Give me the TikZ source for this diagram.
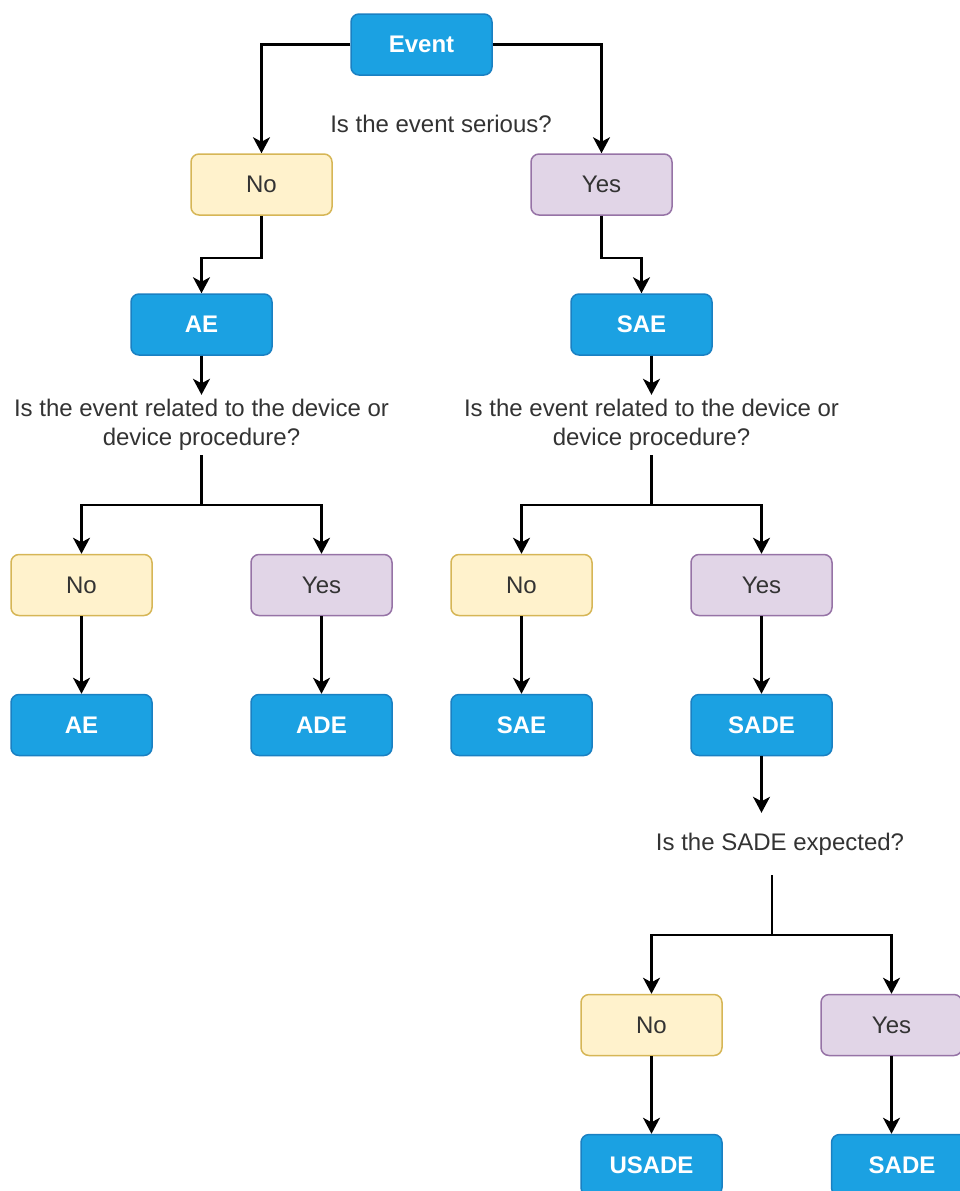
\documentclass[tikz,border=0pt]{standalone}
\usepackage{fontspec}
\setmainfont{Liberation Sans}
\usetikzlibrary{arrows.meta,calc}

\definecolor{termfill}{HTML}{1BA1E2}
\definecolor{termline}{HTML}{1A80C2}
\definecolor{nofill}{HTML}{FFF2CC}
\definecolor{noline}{HTML}{D6B656}
\definecolor{yesfill}{HTML}{E1D5E7}
\definecolor{yesline}{HTML}{9673A6}
\definecolor{labeltext}{HTML}{333333}

\tikzset{
  basebox/.style={rectangle, rounded corners=8pt, line width=1.5pt,
    minimum width=141pt, minimum height=61pt, inner sep=0pt,
    font=\fontsize{24pt}{29pt}\selectfont},
  term/.style={basebox, fill=termfill, draw=termline, text=white,
    font=\fontsize{24pt}{29pt}\selectfont\bfseries},
  nobox/.style={basebox, fill=nofill, draw=noline, text=labeltext},
  yesbox/.style={basebox, fill=yesfill, draw=yesline, text=labeltext},
  question/.style={inner sep=0pt, align=center, text=labeltext,
    font=\fontsize{24pt}{29pt}\selectfont},
  flow/.style={line width=2.2pt, -{Stealth[length=16pt,width=17pt,inset=4.5pt]}},
  plain/.style={line width=2.2pt}
}

\begin{document}
\begin{tikzpicture}[x=1pt, y=-1pt]
  \useasboundingbox (0,0) rectangle (960,1191);
  \clip (0,0) rectangle (960,1191);

  % first question
  \node[term] (event) at (421.5,44.5) {Event};
  \node[question] (q1) at (441,124) {Is the event serious?};
  \node[nobox] (no1) at (261.5,184.5) {No};
  \node[yesbox] (yes1) at (601.5,184.5) {Yes};
  \node[term] (ae1) at (201.5,324.5) {AE};
  \node[term] (sae1) at (641.5,324.5) {SAE};

  % device relation questions
  \node[question, minimum height=60pt] (q2l) at (201.5,425)
    {Is the event related to the device or\\device procedure?};
  \node[question, minimum height=60pt] (q2r) at (651.5,425)
    {Is the event related to the device or\\device procedure?};

  \node[nobox] (no2) at (81.5,585) {No};
  \node[yesbox] (yes2) at (321.5,585) {Yes};
  \node[nobox] (no3) at (521.5,585) {No};
  \node[yesbox] (yes3) at (761.5,585) {Yes};

  \node[term] (ae2) at (81.5,725) {AE};
  \node[term] (ade) at (321.5,725) {ADE};
  \node[term] (sae2) at (521.5,725) {SAE};
  \node[term] (sade1) at (761.5,725) {SADE};

  % expectedness question
  \node[question, minimum height=62pt] (q3) at (780,844) {Is the SADE expected?};
  \node[nobox] (no4) at (651.5,1025) {No};
  \node[yesbox] (yes4) at (891.5,1025) {Yes};
  \node[term] (usade) at (651.5,1165) {USADE};
  \node[term] (sade2) at (902,1165) {SADE};

  % connectors
  \draw[flow] (event.west) -| (no1.north);
  \draw[flow] (event.east) -| (yes1.north);
  \draw[flow] (no1.south) -- ++(0,42) -| (ae1.north);
  \draw[flow] (yes1.south) -- ++(0,42) -| (sae1.north);

  \draw[flow] (ae1.south) -- (q2l.north);
  \draw[flow] (sae1.south -| q2r.north) -- (q2r.north);

  \draw[plain] (q2l.south) -- ++(0,50) coordinate (j1);
  \draw[flow] (j1) -| (no2.north);
  \draw[flow] (j1) -| (yes2.north);
  \draw[plain] (q2r.south) -- ++(0,50) coordinate (j2);
  \draw[flow] (j2) -| (no3.north);
  \draw[flow] (j2) -| (yes3.north);

  \draw[flow] (no2) -- (ae2);
  \draw[flow] (yes2) -- (ade);
  \draw[flow] (no3) -- (sae2);
  \draw[flow] (yes3) -- (sade1);

  \draw[flow] (sade1.south) -- (sade1.south |- q3.north);
  \draw[plain] ([xshift=-8pt]q3.south) -- ++(0,60) coordinate (j3);
  \draw[flow] (j3) -| (no4.north);
  \draw[flow] (j3) -| (yes4.north);
  \draw[flow] (no4) -- (usade);
  \draw[flow] (yes4.south) -- (yes4.south |- sade2.north);
\end{tikzpicture}
\end{document}
